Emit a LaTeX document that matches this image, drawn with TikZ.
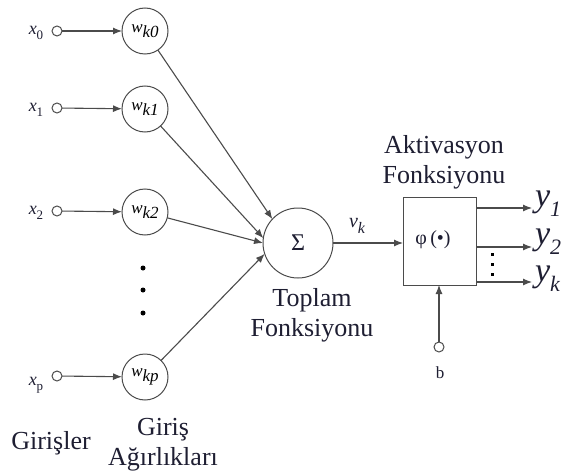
\documentclass[tikz,border=0pt]{standalone}
\usepackage{fontspec}
\setmainfont{Liberation Serif}
\usetikzlibrary{arrows.meta}
\definecolor{ln}{RGB}{75,75,75}
\definecolor{tx}{RGB}{30,30,50}
\newcommand{\subt}[2]{#1\raisebox{-0.3em}{#2}}
\begin{document}
\begin{tikzpicture}[x=1pt,y=-1pt,
  every node/.style={inner sep=0pt,outer sep=0pt},
  incirc/.style={circle,draw=ln,line width=1pt,minimum size=10pt},
  wcirc/.style={circle,draw=ln,line width=1pt,minimum size=46pt,font=\fontsize{17}{17}\selectfont\itshape},
  arr/.style={draw=ln,line width=1.1pt,-{Latex[length=9pt,width=7pt]}},
  big/.style={font=\fontsize{26}{28}\selectfont,text=tx,align=center},
  xl/.style={font=\fontsize{18}{18}\selectfont\itshape,text=tx},
  yl/.style={anchor=west,font=\fontsize{34}{34}\selectfont\itshape,text=tx},
  dotn/.style={circle,fill=black,minimum size=5pt},
  sdot/.style={fill=black,minimum size=3pt}
]
\useasboundingbox (0,0) rectangle (575,476);

% inputs
\node[incirc] (x0) at (57,31) {};
\node[incirc] (x1) at (57,108) {};
\node[incirc] (x2) at (57,211) {};
\node[incirc] (xp) at (57,376) {};
\node[xl] (lx0) at (36,33) {\subt{x}{\fontsize{13}{13}\selectfont\upshape 0}};
\node[xl] (lx1) at (36,110) {\subt{x}{\fontsize{13}{13}\selectfont\upshape 1}};
\node[xl] (lx2) at (36,213) {\subt{x}{\fontsize{13}{13}\selectfont\upshape 2}};
\node[xl] (lxp) at (36,385) {\subt{x}{\fontsize{13}{13}\selectfont\upshape p}};

% weights
\node[wcirc] (w0) at (145,31) {\subt{w}{\fontsize{17}{17}\selectfont k0}};
\node[wcirc] (w1) at (145,109) {\subt{w}{\fontsize{17}{17}\selectfont k1}};
\node[wcirc] (w2) at (145,212) {\subt{w}{\fontsize{17}{17}\selectfont k2}};
\node[wcirc] (wp) at (145,377) {\subt{w}{\fontsize{17}{17}\selectfont kp}};

\node[dotn] (d1) at (143,268) {};
\node[dotn] (d2) at (143,290) {};
\node[dotn] (d3) at (143,313) {};

\draw[arr] (x0) -- (w0);
\draw[arr] (x1) -- (w1);
\draw[arr] (x2) -- (w2);
\draw[arr] (xp) -- (wp);

% sum
\node[circle,draw=ln,line width=1pt,minimum size=70pt,font=\fontsize{24}{24}\selectfont,text=tx] (sig) at (298,243) {Σ};
\draw[arr] (w0) -- (sig.137);
\draw[arr] (w1) -- (sig.172);
\draw[arr] (w2) -- (sig.180);
\draw[arr] (wp) -- (sig.198);

% activation box
\node[draw=ln,line width=1pt,minimum width=73pt,minimum height=88pt] (box) at (439.5,241) {};
\node[font=\fontsize{20}{20}\selectfont,text=tx] (phi) at (433,240) {φ\,(•)};
\draw[arr] (sig) -- (sig -| box.west) coordinate (bin);
\node[font=\fontsize{20}{20}\selectfont\itshape,text=tx] (vk) at (357,226) {\subt{v}{\fontsize{16}{16}\selectfont k}};

% outputs
\coordinate (o1) at (532,208);
\coordinate (o2) at (532,247);
\coordinate (ok) at (532,282);
\draw[arr] (o1 -| box.east) -- (o1);
\draw[arr] (o2 -| box.east) -- (o2);
\draw[arr] (ok -| box.east) -- (ok);
\node[yl] (y1) at (535,204) {\subt{y}{\fontsize{22}{22}\selectfont 1}};
\node[yl] (y2) at (535,242) {\subt{y}{\fontsize{22}{22}\selectfont 2}};
\node[yl] (yk) at (535,279) {\subt{y}{\fontsize{22}{22}\selectfont k}};
\node[sdot] (s1) at (492,254) {};
\node[sdot] (s2) at (492,264) {};
\node[sdot] (s3) at (492,274) {};

% bias
\node[incirc] (b) at (439,347) {};
\node[font=\fontsize{17}{17}\selectfont,text=tx] (lb) at (440,373) {b};
\draw[arr] (b) -- (b |- box.south);

% labels
\node[big] (act) at (444,162) {Aktivasyon\\[2pt]Fonksiyonu};
\node[big] (top) at (312,315) {Toplam\\[2pt]Fonksiyonu};
\node[big] (gir) at (51,443) {Girişler};
\node[big] (ga) at (163,445) {Giriş\\[2pt]Ağırlıkları};
\end{tikzpicture}
\end{document}
